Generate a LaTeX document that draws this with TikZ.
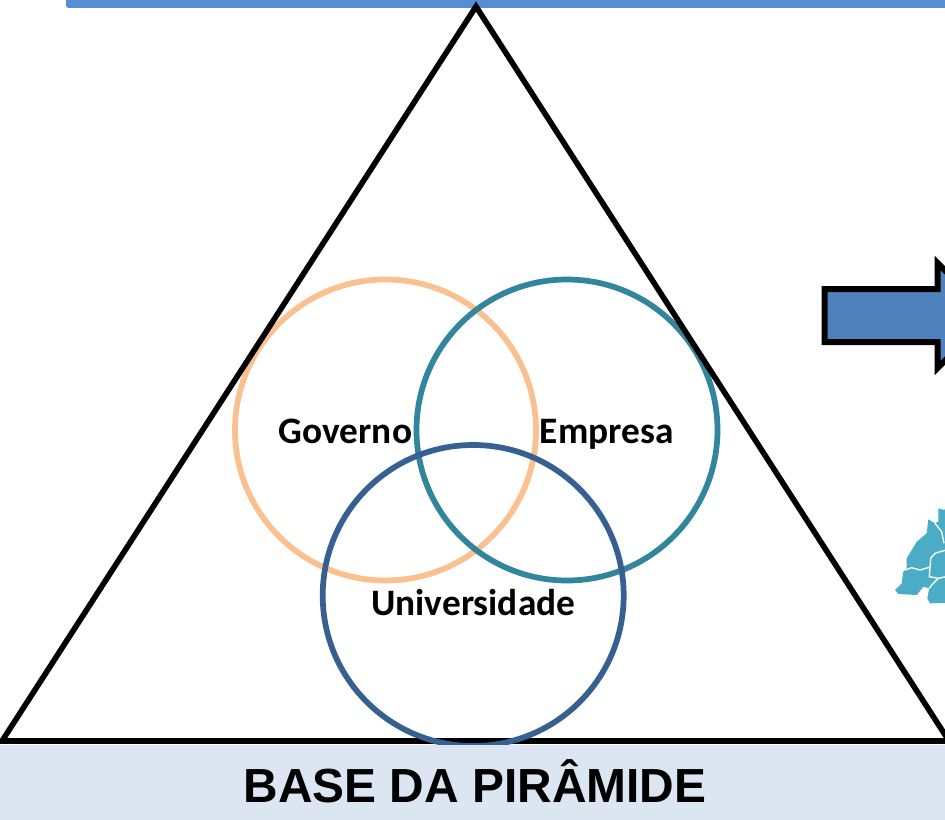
\documentclass[tikz,border=0pt]{standalone}
\usepackage{fontspec}
\setmainfont{Carlito}
\newfontfamily\basefont{Liberation Sans}
\definecolor{barblue}{HTML}{558ED5}
\definecolor{basefill}{HTML}{DCE6F2}
\definecolor{arrowblue}{HTML}{4F81BD}
\definecolor{mapblue}{HTML}{4BACC6}
\definecolor{govcol}{HTML}{FAC090}
\definecolor{empcol}{HTML}{31859C}
\definecolor{unicol}{HTML}{376092}
\tikzset{
  ring/.style={line width=4.3pt},
  ringlabel/.style={font=\bfseries\fontsize{28}{32}\selectfont, inner sep=0pt, anchor=base},
  mapline/.style={draw=white, line width=1pt}
}
\begin{document}
\begin{tikzpicture}[x=0.75pt, y=-0.75pt]
\clip (0,0) rectangle (945,820);
\fill[white] (0,0) rectangle (945,820);
% top bar
\fill[barblue, rounded corners=2pt] (66,-10) rectangle (960,8);
% circles
\draw[ring, govcol] (385.5,430) circle (150.5);
\draw[ring, empcol] (567,430) circle (150.5);
% pyramid
\draw[line width=4.2pt, miter limit=10] (476,6.5) -- (949,741) -- (2,741) -- cycle;
\draw[ring, unicol] (473.2,595.5) circle (150.5);
% base band
\fill[basefill] (0,745) rectangle (945,820);
\node[font=\basefont\bfseries\fontsize{35.9}{40}\selectfont, inner sep=0pt, anchor=base] (base) at (475,802) {BASE DA PIRÂMIDE};
\node[ringlabel] (gov) at (345.5,443) {Governo};
\node[ringlabel] (emp) at (606.7,443) {Empresa};
\node[ringlabel] (uni) at (473.3,615) {Universidade};
% arrow
\draw[line width=4.5pt, fill=arrowblue, miter limit=10] (824.5,289) -- (937.5,289) -- (937.5,263) -- (990,315.5) -- (937.5,368) -- (937.5,342) -- (824.5,342) -- cycle;
% map
\fill[mapblue] (938.3,508.3) -- (944,510) -- (946,508) -- (946,603) -- (930,603.3) -- (927.3,598.3) -- (929.3,588.3) -- (923.3,586.7) -- (916.7,595) -- (898.3,594) -- (895,590) -- (901.7,583.3) -- (903.3,571.7) -- (906.7,568.3) -- (906.7,558.3) -- (916.7,541.7) -- (926.7,533.3) -- (928.3,519.3) -- (935,523.3) -- (938.3,521.7) -- cycle;
\draw[mapline] (935,523.3) -- (941.7,531.7) -- (944,543.3);
\draw[mapline] (946,550) -- (935,553.3) -- (930.7,558.3) -- (929.3,576.7) -- (938.3,578.3) -- (946,576.7);
\draw[mapline] (905,570) -- (911.7,567.7) -- (920,570) -- (929.3,567.3);
\draw[mapline] (938.3,578.3) -- (931.7,585) -- (929.3,588.3);
\end{tikzpicture}
\end{document}
